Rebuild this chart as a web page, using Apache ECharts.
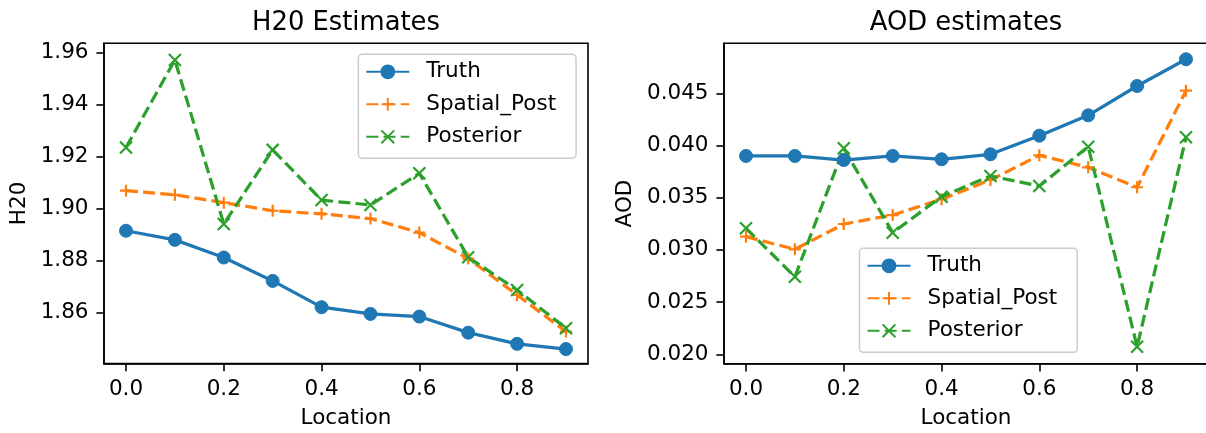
<!DOCTYPE html>
<html>
<head>
<meta charset="utf-8">
<script src="https://cdn.jsdelivr.net/npm/echarts@6/dist/echarts.min.js"></script>
<style>
  html, body { margin: 0; padding: 0; background: #fff; }
  #chart { width: 1206px; height: 433px; }
</style>
</head>
<body>
<div id="chart"></div>
<script>
// Sample locations along the transect
const locations = [0.0, 0.1, 0.2, 0.3, 0.4, 0.5, 0.6, 0.7, 0.8, 0.9];

// Water vapour (H20) estimates
const h2oTruth     = [1.8915, 1.8880, 1.8812, 1.8722, 1.8621, 1.8595, 1.8585, 1.8523, 1.8480, 1.8460];
const h2oSpatial   = [1.9069, 1.9053, 1.9023, 1.8992, 1.8980, 1.8962, 1.8908, 1.8808, 1.8668, 1.8527];
const h2oPosterior = [1.9235, 1.9572, 1.8941, 1.9226, 1.9033, 1.9014, 1.9136, 1.8813, 1.8687, 1.8540];

// Aerosol optical depth (AOD) estimates
const aodTruth     = [0.03900, 0.03900, 0.03861, 0.03900, 0.03868, 0.03916, 0.04094, 0.04289, 0.04570, 0.04826];
const aodSpatial   = [0.03127, 0.03006, 0.03248, 0.03334, 0.03485, 0.03670, 0.03906, 0.03791, 0.03600, 0.04525];
const aodPosterior = [0.03207, 0.02743, 0.03973, 0.03165, 0.03510, 0.03708, 0.03612, 0.03989, 0.02073, 0.04079];

// Tick positions
const xTicks   = [0.0, 0.2, 0.4, 0.6, 0.8];
const h2oTicks = [1.86, 1.88, 1.90, 1.92, 1.94, 1.96];
const aodTicks = [0.020, 0.025, 0.030, 0.035, 0.040, 0.045];

const seriesNames = ['Truth', 'Spatial_Post', 'Posterior'];

const FONT = 'DejaVu Sans';
const TICK_FS = 21.5;
const C_BLUE = '#1f77b4', C_ORANGE = '#ff7f0e', C_GREEN = '#2ca02c';
const LW = 3.25;
const DASH = [12, 5.2];
const PLUS = 'path://M0,-1L0,1M-1,0L1,0';
const CROSS = 'path://M-1,-1L1,1M-1,1L1,-1';

const pairs = ys => locations.map((x, i) => [x, ys[i]]);

function xAxisFor(gridIndex) {
  return {
    type: 'value', gridIndex, position: 'bottom',
    min: -0.045, max: 0.945,
    name: 'Location', nameLocation: 'middle', nameGap: 37,
    nameTextStyle: { fontFamily: FONT, fontSize: TICK_FS, color: '#000', lineHeight: 26 },
    axisLine: { show: true, onZero: false, lineStyle: { color: '#000', width: 1.6 } },
    splitLine: { show: false },
    axisTick: { show: true, length: 7.6, inside: false, customValues: xTicks,
                lineStyle: { color: '#000', width: 1.6 } },
    axisLabel: { customValues: xTicks, margin: 15, fontFamily: FONT, fontSize: TICK_FS, color: '#000',
                 formatter: v => v.toFixed(1) }
  };
}

function yAxisFor(gridIndex, min, max, ticks, digits, name, nameGap) {
  return {
    type: 'value', gridIndex, min, max, position: 'left',
    name, nameLocation: 'middle', nameGap, nameRotate: 90,
    nameTextStyle: { fontFamily: FONT, fontSize: TICK_FS, color: '#000', lineHeight: 26 },
    axisLine: { show: true, onZero: false, lineStyle: { color: '#000', width: 1.6 } },
    splitLine: { show: false },
    axisTick: { show: true, length: 7.6, inside: false, customValues: ticks,
                lineStyle: { color: '#000', width: 1.6 } },
    axisLabel: { customValues: ticks, margin: 15.5, fontFamily: FONT, fontSize: TICK_FS, color: '#000',
                 formatter: v => v.toFixed(digits) }
  };
}

function lineSeries(name, data, idx, color, symbol, size, dashed) {
  return {
    name, type: 'line', xAxisIndex: idx, yAxisIndex: idx,
    data: pairs(data),
    symbol, symbolSize: size, showSymbol: true,
    lineStyle: { color, width: LW, type: dashed ? DASH : 'solid' },
    itemStyle: symbol === 'circle'
      ? { color, borderColor: color, borderWidth: 1 }
      : { color, borderColor: color, borderWidth: 2.2 },
    emphasis: { disabled: true },
    z: 2
  };
}

function legendAt(left, top) {
  return {
    data: seriesNames, orient: 'vertical', left, top,
    padding: [5, 20, 9, 7], itemGap: 7.5,
    itemWidth: 43, itemHeight: 16,
    backgroundColor: 'rgba(255,255,255,0.8)',
    borderColor: '#cccccc', borderWidth: 1.5, borderRadius: 4,
    textStyle: { fontFamily: FONT, fontSize: TICK_FS, color: '#000', lineHeight: 25, padding: [0, 0, 0, 12] },
    selectedMode: false
  };
}

const chart = echarts.init(document.getElementById('chart'), null, { renderer: 'canvas' });

chart.setOption({
  animation: false,
  backgroundColor: '#fff',
  title: [
    { text: 'H20 Estimates', left: 346, top: 10, textAlign: 'center', padding: 0,
      textStyle: { fontFamily: FONT, fontSize: 25.8, fontWeight: 'normal', color: '#000' } },
    { text: 'AOD estimates', left: 966, top: 10, textAlign: 'center', padding: 0,
      textStyle: { fontFamily: FONT, fontSize: 25.8, fontWeight: 'normal', color: '#000' } }
  ],
  grid: [
    { left: 104, top: 43.3, width: 484, height: 320.3, show: true, borderColor: '#000', borderWidth: 1.6,
      backgroundColor: 'transparent', containLabel: false, outerBoundsMode: 'none' },
    { left: 724, top: 43.3, width: 484, height: 320.5, show: true, borderColor: '#000', borderWidth: 1.6,
      backgroundColor: 'transparent', containLabel: false, outerBoundsMode: 'none' }
  ],
  xAxis: [xAxisFor(0), xAxisFor(1)],
  yAxis: [
    yAxisFor(0, 1.8404, 1.9636, h2oTicks, 2, 'H20', 72),
    yAxisFor(1, 0.01909, 0.04979, aodTicks, 3, 'AOD', 86)
  ],
  legend: [legendAt(358.3, 54.3), legendAt(859.5, 248.3)],
  series: [
    lineSeries('Truth', h2oTruth, 0, C_BLUE, 'circle', 13, false),
    lineSeries('Spatial_Post', h2oSpatial, 0, C_ORANGE, PLUS, 12, true),
    lineSeries('Posterior', h2oPosterior, 0, C_GREEN, CROSS, 12, true),
    lineSeries('Truth', aodTruth, 1, C_BLUE, 'circle', 13, false),
    lineSeries('Spatial_Post', aodSpatial, 1, C_ORANGE, PLUS, 12, true),
    lineSeries('Posterior', aodPosterior, 1, C_GREEN, CROSS, 12, true)
  ]
});
</script>
</body>
</html>
